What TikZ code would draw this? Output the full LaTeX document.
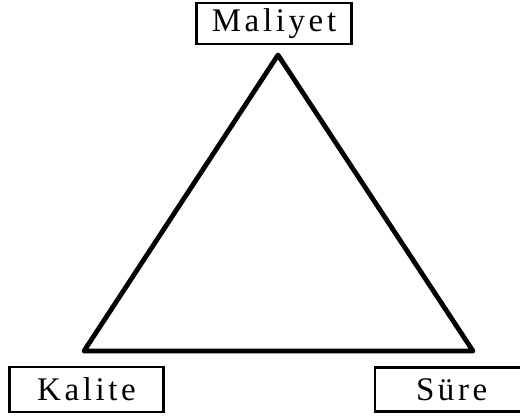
\documentclass[tikz,border=0pt]{standalone}
\usepackage{fontspec}
\setmainfont{Liberation Serif}[LetterSpace=11]
\begin{document}
\begin{tikzpicture}[x=1pt, y=-1pt,
    label box/.style={draw, line width=2.4pt, inner sep=0pt, font=\fontsize{33}{33}\selectfont}]
    \useasboundingbox (0,0) rectangle (520,418);
    \clip (0,0) rectangle (520,418);

    \coordinate (top) at (278,55);
    \coordinate (left) at (84,351);
    \coordinate (right) at (473,351);
    \draw[line width=4.8pt, line join=round] (top) -- (right) -- (left) -- cycle;

    \node[label box, minimum width=155pt, minimum height=41pt] (maliyet) at (274,23.5) {Maliyet};
    \node[label box, minimum width=154pt, minimum height=45pt] (kalite) at (86.5,389.5) {Kalite};
    \node[label box, minimum width=160pt, minimum height=44pt, anchor=west,
          text width=150pt, align=center] (sure) at (373.5,389.5) {\hspace*{-6pt}Süre};
\end{tikzpicture}
\end{document}
